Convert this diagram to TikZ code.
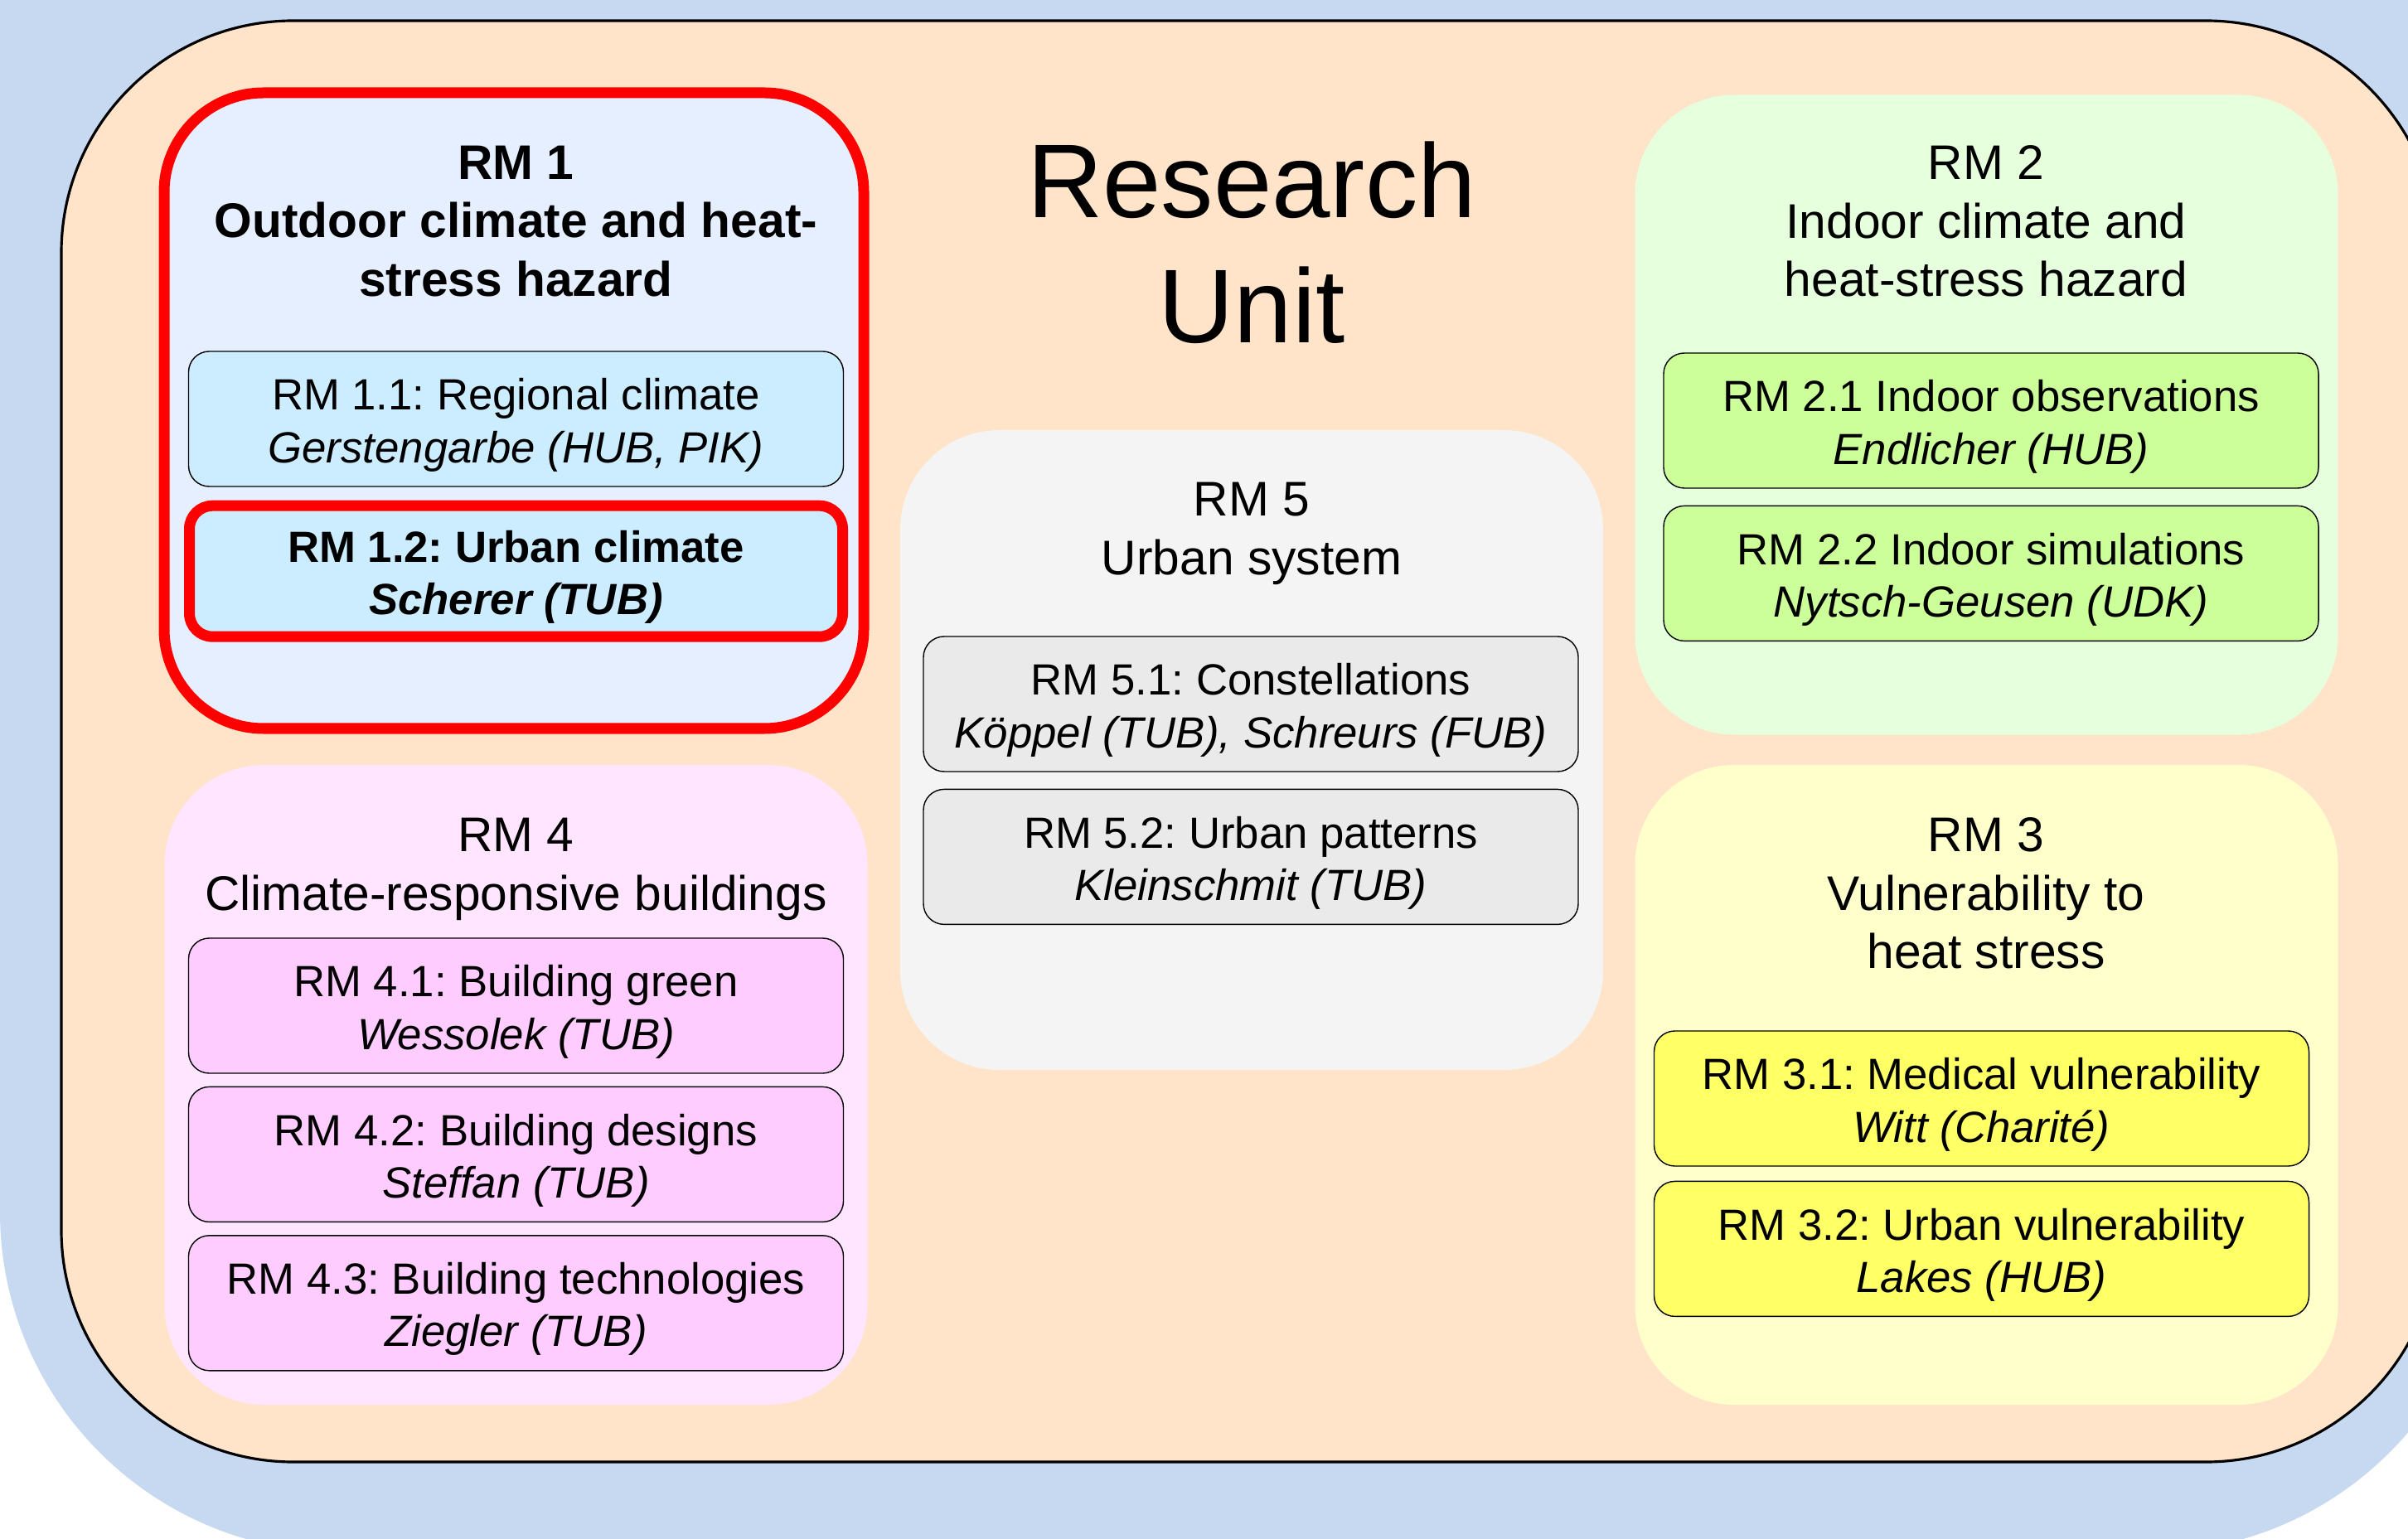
\documentclass[tikz,border=0pt]{standalone}
\usepackage{fontspec}
\setmainfont{Liberation Sans}
\usepackage{tikz}
\usetikzlibrary{positioning}
\frenchspacing

\definecolor{backblue}{HTML}{C6D9F0}
\definecolor{unitpeach}{HTML}{FFE4C9}
\definecolor{rmonebg}{HTML}{E6EFFF}
\definecolor{rmonebox}{HTML}{CCECFF}
\definecolor{rmtwobg}{HTML}{E6FFDC}
\definecolor{rmtwobox}{HTML}{CCFF99}
\definecolor{rmthreebg}{HTML}{FFFFCC}
\definecolor{rmthreebox}{HTML}{FFFF66}
\definecolor{rmfourbg}{HTML}{FFE5FF}
\definecolor{rmfourbox}{HTML}{FFCCFF}
\definecolor{rmfivebg}{HTML}{F4F4F4}
\definecolor{rmfivebox}{HTML}{EAEAEA}

% a little extra head room on the first line of a box
\newcommand{\boxstrut}{\rule{0pt}{15pt}}

\begin{document}
\begin{tikzpicture}[
  font=\fontsize{15}{18}\selectfont,
  modframe/.style={rounded corners=1.2cm, minimum width=8.48cm, minimum height=7.72cm, inner sep=0pt},
  subbox/.style={draw, rounded corners=0.25cm, line width=0.4pt, minimum width=7.9cm,
              minimum height=1.63cm, align=center, inner sep=2pt},
  modhead/.style={align=center, font=\fontsize{16.7}{20}\selectfont},
  redline/.style={draw=red, line width=3.7pt},
]

\useasboundingbox (0,0) rectangle (29.05,-18.57);
\fill[white] (0,0) rectangle (29.05,-18.57);

%% ---------- outer frames ----------
\node[fill=backblue, rounded corners=4.11cm, minimum width=30.03cm, minimum height=24.73cm,
      inner sep=0pt] (back) at (15.015,-6.365) {};
\node[draw, line width=0.9pt, fill=unitpeach, rounded corners=2.8cm, minimum width=28.67cm,
      minimum height=17.39cm, inner sep=0pt] (unit) at (15.075,-8.945) {};

\node[align=center, font=\fontsize{36}{43}\selectfont] (ru) at (15.10,-2.93) {Research\\ Unit};

%% ---------- RM 1 ----------
\node[modframe, redline, fill=rmonebg, minimum width=8.44cm, minimum height=7.67cm] (rm1) at (6.20,-4.955) {};
\node[modhead, font=\fontsize{16.7}{20}\selectfont\bfseries] (t1) at (6.225,-2.67)
  {RM 1\\ Outdoor climate and heat-\\ stress hazard};
\node[subbox, fill=rmonebox] (rm11) at (6.225,-5.055)
  {\boxstrut RM 1.1: Regional climate\\ \textit{Gerstengarbe (HUB, PIK)}};
\node[subbox, redline, fill=rmonebox, rounded corners=0.28cm, minimum width=7.88cm, minimum height=1.58cm,
      font=\fontsize{15}{18}\selectfont\bfseries, below=0.16cm of rm11] (rm12)
  {\boxstrut RM 1.2: Urban climate\\ \textit{Scherer (TUB)}};

%% ---------- RM 2 ----------
\node[modframe, fill=rmtwobg] (rm2) at (23.965,-5.005) {};
\node[modhead] (t2) at (23.96,-2.67) {RM 2\\ Indoor climate and\\ heat-stress hazard};
\node[subbox, fill=rmtwobox] (rm21) at (24.02,-5.075)
  {\boxstrut RM 2.1 Indoor observations\\ \textit{Endlicher (HUB)}};
\node[subbox, fill=rmtwobox, below=0.2cm of rm21] (rm22)
  {\boxstrut RM 2.2 Indoor simulations\\ \textit{Nytsch-Geusen (UDK)}};

%% ---------- RM 5 ----------
\node[modframe, fill=rmfivebg] (rm5) at (15.10,-9.05) {};
\node[modhead] (t5) at (15.10,-6.44) {RM 5\\ Urban system};
\node[subbox, fill=rmfivebox] (rm51) at (15.09,-8.495)
  {\boxstrut RM 5.1: Constellations\\ \textit{Köppel (TUB), Schreurs (FUB)}};
\node[subbox, fill=rmfivebox, below=0.2cm of rm51] (rm52)
  {\boxstrut RM 5.2: Urban patterns\\ \textit{Kleinschmit (TUB)}};

%% ---------- RM 4 ----------
\node[modframe, fill=rmfourbg] (rm4) at (6.225,-13.09) {};
\node[modhead] (t4) at (6.225,-10.49) {RM 4\\ Climate-responsive buildings};
\node[subbox, fill=rmfourbox] (rm41) at (6.225,-12.135)
  {\boxstrut RM 4.1: Building green\\ \textit{Wessolek (TUB)}};
\node[subbox, fill=rmfourbox, below=0.15cm of rm41] (rm42)
  {\boxstrut RM 4.2: Building designs\\ \textit{Steffan (TUB)}};
\node[subbox, fill=rmfourbox, below=0.15cm of rm42] (rm43)
  {\boxstrut RM 4.3: Building technologies\\ \textit{Ziegler (TUB)}};

%% ---------- RM 3 ----------
\node[modframe, fill=rmthreebg] (rm3) at (23.965,-13.09) {};
\node[modhead] (t3) at (23.96,-10.78) {RM 3\\ Vulnerability to\\ heat stress};
\node[subbox, fill=rmthreebox] (rm31) at (23.905,-13.255)
  {\boxstrut RM 3.1: Medical vulnerability\\ \textit{Witt (Charité)}};
\node[subbox, fill=rmthreebox, below=0.17cm of rm31] (rm32)
  {\boxstrut RM 3.2: Urban vulnerability\\ \textit{Lakes (HUB)}};

\end{tikzpicture}
\end{document}
